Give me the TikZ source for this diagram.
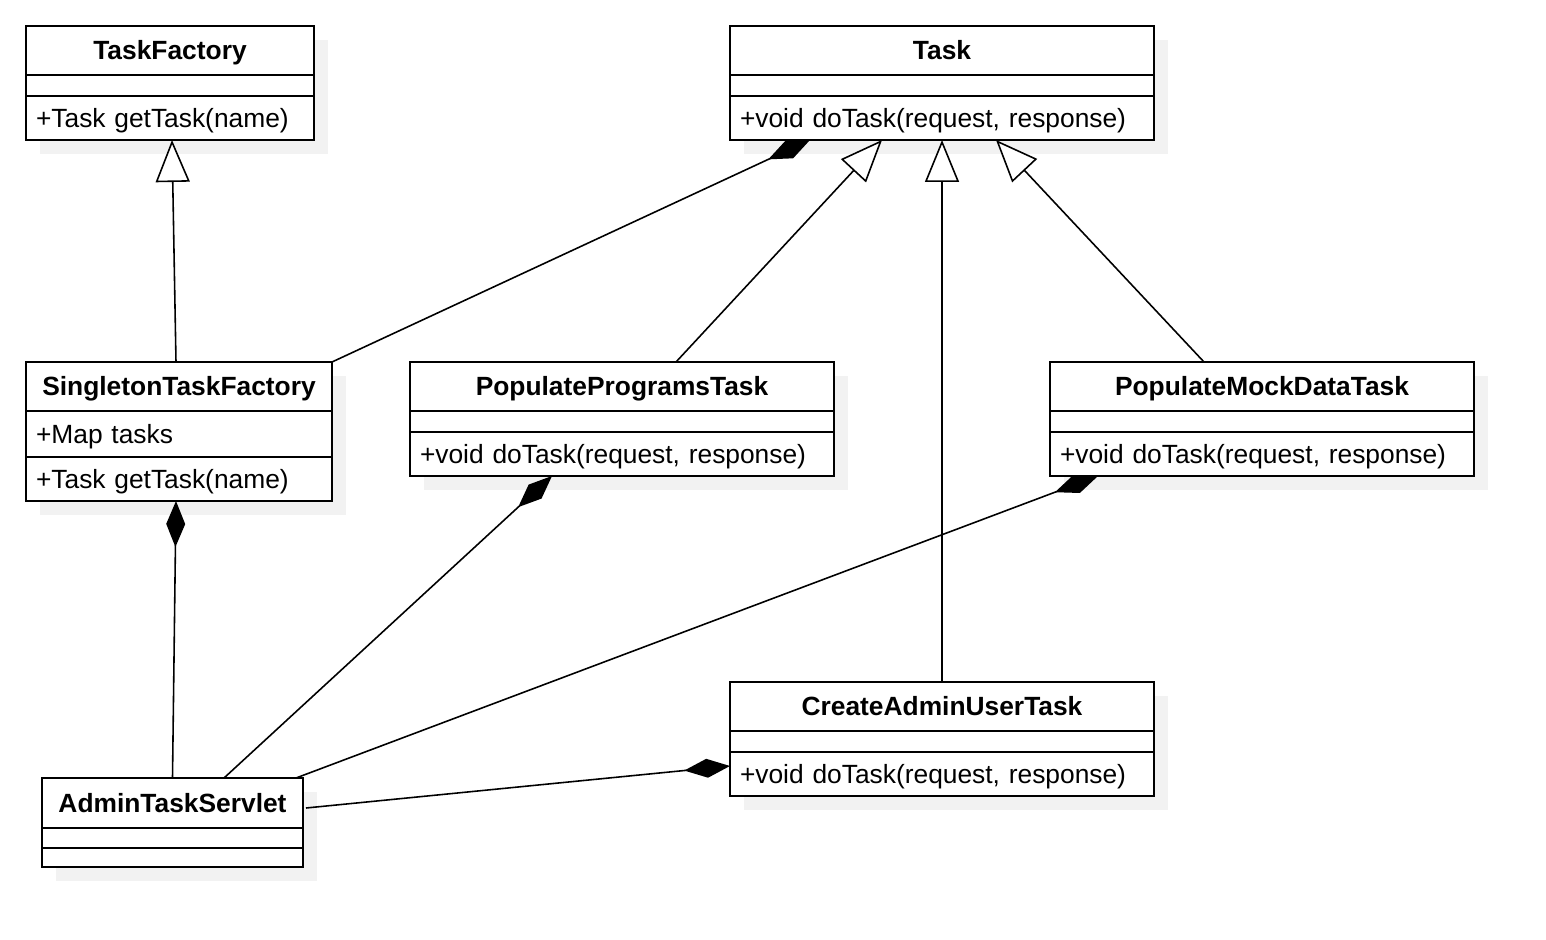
\documentclass[tikz,border=0pt]{standalone}
\usepackage{fontspec}
\setmainfont{Liberation Sans}
\usetikzlibrary{positioning, shadows, arrows.meta}

\tikzset{
  box/.style={draw, fill=white, line width=1.1pt, outer sep=0pt, inner xsep=0.2cm, inner ysep=0pt,
    text width=#1, text height=10.8pt, text depth=0pt, font=\fontsize{15}{18}\selectfont,
    drop shadow={shadow xshift=0.28cm, shadow yshift=-0.28cm, fill=gray!10, opacity=1}},
  clshead/.style={box=#1, align=center, font=\fontsize{15}{18}\selectfont\bfseries, minimum height=0.98cm, anchor=north west},
  clsattr/.style={box=#1, align=left, minimum height=0.42cm},
  clsops/.style={box=#1, align=left, minimum height=0.88cm},
  isa/.style={-{Triangle[length=0.84cm, width=0.68cm, fill=white]}, line width=0.9pt},
  owns/.style={-{Diamond[length=0.92cm, width=0.38cm]}, line width=0.9pt}
}

\begin{document}
\begin{tikzpicture}
\useasboundingbox (0,0) rectangle (30.92,-18.8);

% classes
\node (factory) [clshead=5.36cm] at (0.52,-0.52) {TaskFactory};
\node (factory-a) [clsattr=5.36cm, below=0pt of factory] {};
\node (factory-o) [clsops=5.36cm, below=0pt of factory-a] {+Task getTask(name)};

\node (task) [clshead=8.08cm] at (14.6,-0.52) {Task};
\node (task-a) [clsattr=8.08cm, below=0pt of task] {};
\node (task-o) [clsops=8.08cm, below=0pt of task-a] {+void doTask(request, response)};

\node (single) [clshead=5.72cm] at (0.52,-7.24) {SingletonTaskFactory};
\node (single-a) [clsattr=5.72cm, minimum height=0.92cm, below=0pt of single] {+Map tasks};
\node (single-o) [clsops=5.72cm, below=0pt of single-a] {+Task getTask(name)};

\node (programs) [clshead=8.08cm] at (8.2,-7.24) {PopulateProgramsTask};
\node (programs-a) [clsattr=8.08cm, below=0pt of programs] {};
\node (programs-o) [clsops=8.08cm, below=0pt of programs-a] {+void doTask(request, response)};

\node (mockdata) [clshead=8.08cm] at (21.0,-7.24) {PopulateMockDataTask};
\node (mockdata-a) [clsattr=8.08cm, below=0pt of mockdata] {};
\node (mockdata-o) [clsops=8.08cm, below=0pt of mockdata-a] {+void doTask(request, response)};

\node (admin) [clshead=8.08cm] at (14.6,-13.64) {CreateAdminUserTask};
\node (admin-a) [clsattr=8.08cm, below=0pt of admin] {};
\node (admin-o) [clsops=8.08cm, below=0pt of admin-a] {+void doTask(request, response)};

\node (servlet) [clshead=4.82cm, minimum height=1.0cm] at (0.84,-15.56) {AdminTaskServlet};
\node (servlet-a) [clsattr=4.82cm, minimum height=0.4cm, below=0pt of servlet] {};
\node (servlet-o) [clsops=4.82cm, minimum height=0.36cm, below=0pt of servlet-a] {};

% generalisation
\draw [isa] ([xshift=-0.06cm]single.north) -- ([xshift=0.04cm]factory-o.south);
\draw [isa] ([xshift=1.08cm]programs.north) -- ([xshift=-1.2cm]task-o.south);
\draw [isa] (admin.north) -- (task-o.south);
\draw [isa] ([xshift=-1.16cm]mockdata.north) -- ([xshift=1.08cm]task-o.south);

% composition
\draw [owns] (single.north east) -- ([xshift=-2.64cm]task-o.south);
\draw [owns] (servlet.north) -- ([xshift=-0.06cm]single-o.south);
\draw [owns] ([xshift=1.03cm]servlet.north) -- ([xshift=-1.4cm]programs-o.south);
\draw [owns] ([xshift=-0.14cm]servlet.north east) -- ([xshift=-3.28cm]mockdata-o.south);
\draw [owns] ([xshift=0.06cm, yshift=-0.1cm]servlet.east) -- ([yshift=0.16cm]admin-o.west);
\end{tikzpicture}
\end{document}
